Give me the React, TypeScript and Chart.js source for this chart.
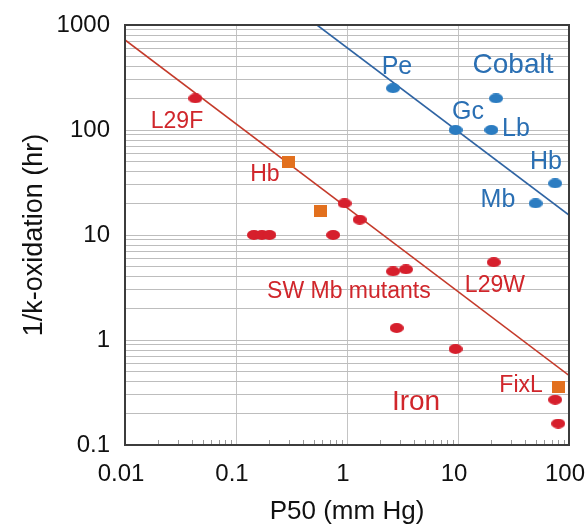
import React, { useEffect, useRef } from 'react';
import { Chart, registerables } from 'chart.js';

Chart.register(...registerables);

// Iron (red circles): P50 (mm Hg) vs 1/k-oxidation (hr)
const ironP50 = [0.043, 0.145, 0.171, 0.2, 0.75, 0.95, 1.3, 2.6, 3.4, 21, 2.8, 9.5, 75, 80];
const ironTime = [200, 10, 10, 10, 10, 20, 14, 4.5, 4.7, 5.5, 1.3, 0.82, 0.27, 0.16];
// Iron globins (orange squares): Hb, ?, FixL
const globinP50 = [0.3, 0.58, 80];
const globinTime = [50, 17, 0.36];
// Cobalt (blue circles): Pe, ?, Gc, Lb, Hb, Mb
const cobaltP50 = [2.6, 22, 9.5, 20, 75, 50];
const cobaltTime = [250, 200, 100, 100, 31, 20];
// Trend lines
const ironFitP50 = [0.01, 100];
const ironFitTime = [720, 0.46];
const cobaltFitP50 = [0.537, 100];
const cobaltFitTime = [1000, 15.5];
// Axis ticks
const xTickValues = [0.01, 0.1, 1, 10, 100];
const yTickValues = [0.1, 1, 10, 100, 1000];
// Annotation texts anchored in data coordinates
const labelTexts = ['L29F', 'Hb', 'SW Mb mutants', 'L29W', 'FixL', 'Iron', 'Pe', 'Cobalt', 'Gc', 'Lb', 'Hb', 'Mb'];
const labelP50 = [0.0294, 0.182, 1.04, 21.5, 37, 4.19, 2.82, 31.3, 12.3, 33.3, 62, 22.9];
const labelTime = [119, 37.3, 2.87, 3.27, 0.365, 0.257, 398, 416, 148, 102, 49.5, 21.5];
const labelGroup = ['iron', 'iron', 'iron', 'iron', 'iron', 'ironBig', 'cobalt', 'cobaltBig', 'cobalt', 'cobalt', 'cobalt', 'cobalt'];

const FONT = '"Liberation Sans", Arial, sans-serif';
const RED = '#d61f2c';
const RED_TEXT = '#d0262b';
const RED_LINE = '#c43a2a';
const BLUE = '#2b7cc1';
const BLUE_TEXT = '#2a6fb3';
const BLUE_LINE = '#2f64a3';
const ORANGE = '#e2701e';

const groupStyle: Record<string, { color: string; size: number }> = {
  iron: { color: RED_TEXT, size: 23 },
  ironBig: { color: RED_TEXT, size: 28 },
  cobalt: { color: BLUE_TEXT, size: 25 },
  cobaltBig: { color: BLUE_TEXT, size: 28 },
};

function makeMarker(color: string, w: number, h: number, shape: 'ellipse' | 'rect') {
  const c = document.createElement('canvas');
  c.width = w;
  c.height = h;
  const g = c.getContext('2d')!;
  g.fillStyle = color;
  if (shape === 'ellipse') {
    g.beginPath();
    g.ellipse(w / 2, h / 2, w / 2, h / 2, 0, 0, Math.PI * 2);
    g.fill();
  } else {
    g.fillRect(0, 0, w, h);
  }
  return c;
}

const zip = (xs: number[], ys: number[]) => xs.map((x, i) => ({ x, y: ys[i] }));

function isDecade(v: number) {
  const l = Math.log10(v);
  return Math.abs(l - Math.round(l)) < 1e-9;
}

export default function App() {
  const ref = useRef<HTMLCanvasElement>(null);

  useEffect(() => {
    document.body.style.margin = '0';
    const canvas = ref.current!;
    const redDot = makeMarker(RED, 14, 10, 'ellipse');
    const blueDot = makeMarker(BLUE, 14, 10, 'ellipse');
    const square = makeMarker(ORANGE, 13, 12, 'rect');

    const yAll: number[] = [];
    for (let k = -1; k <= 2; k++) for (let n = 1; n <= 9; n++) yAll.push(+(n * Math.pow(10, k)).toPrecision(3));
    yAll.push(1000);

    const framePlugin = {
      id: 'frameAndLabels',
      beforeDatasetsDraw(chart: any) {
        const { ctx, chartArea: a, scales } = chart;
        const xs = scales.x;
        ctx.save();
        ctx.strokeStyle = '#9a9a9a';
        ctx.lineWidth = 1;
        for (let k = -2; k <= 1; k++) {
          for (let n = 2; n <= 9; n++) {
            const px = Math.round(xs.getPixelForValue(n * Math.pow(10, k))) + 0.5;
            ctx.beginPath();
            ctx.moveTo(px, a.bottom);
            ctx.lineTo(px, a.bottom - 5);
            ctx.stroke();
          }
        }
        ctx.restore();
      },
      afterDatasetsDraw(chart: any) {
        const { ctx, chartArea: a, scales } = chart;
        ctx.save();
        ctx.strokeStyle = '#3c3c3c';
        ctx.lineWidth = 2;
        ctx.strokeRect(a.left, a.top, a.right - a.left, a.bottom - a.top);
        ctx.textAlign = 'center';
        ctx.textBaseline = 'middle';
        labelTexts.forEach((t, i) => {
          const st = groupStyle[labelGroup[i]];
          ctx.fillStyle = st.color;
          ctx.font = `${st.size}px ${FONT}`;
          ctx.fillText(t, scales.x.getPixelForValue(labelP50[i]), scales.y.getPixelForValue(labelTime[i]));
        });
        ctx.restore();
      },
    };

    const chart = new Chart(canvas, {
      type: 'scatter',
      data: {
        datasets: [
          {
            label: 'Iron fit',
            data: zip(ironFitP50, ironFitTime),
            showLine: true,
            borderColor: RED_LINE,
            borderWidth: 1.6,
            pointRadius: 0,
            order: 2,
          },
          {
            label: 'Cobalt fit',
            data: zip(cobaltFitP50, cobaltFitTime),
            showLine: true,
            borderColor: BLUE_LINE,
            borderWidth: 1.6,
            pointRadius: 0,
            order: 2,
          },
          {
            label: 'Iron',
            data: zip(ironP50, ironTime),
            pointStyle: redDot as any,
            order: 1,
          },
          {
            label: 'Iron globins',
            data: zip(globinP50, globinTime),
            pointStyle: square as any,
            order: 1,
          },
          {
            label: 'Cobalt',
            data: zip(cobaltP50, cobaltTime),
            pointStyle: blueDot as any,
            order: 1,
          },
        ],
      },
      options: {
        animation: false,
        responsive: false,
        maintainAspectRatio: false,
        layout: { padding: { top: 25, right: 17, left: 0, bottom: 0 } },
        plugins: { legend: { display: false }, tooltip: { enabled: false } },
        scales: {
          x: {
            type: 'logarithmic',
            min: 0.01,
            max: 100,
            afterBuildTicks: (s: any) => {
              s.ticks = xTickValues.map((v) => ({ value: v }));
            },
            afterFit: (s: any) => {
              s.height = 82;
              s.paddingLeft = 0;
              s.paddingRight = 0;
            },
            ticks: {
              autoSkip: false,
              maxRotation: 0,
              padding: 15,
              labelOffset: -4,
              color: '#111',
              font: { family: FONT, size: 24 },
              callback: (v: any) => String(v),
            },
            grid: { color: '#c4c4c4', lineWidth: 1, drawTicks: false },
            border: { display: false },
            title: {
              display: true,
              text: 'P50 (mm Hg)',
              color: '#111',
              font: { family: FONT, size: 26 },
              padding: { top: 0, bottom: 0 },
            },
          },
          y: {
            type: 'logarithmic',
            min: 0.1,
            max: 1000,
            afterBuildTicks: (s: any) => {
              s.ticks = yAll.map((v) => ({ value: v }));
            },
            afterFit: (s: any) => {
              s.width = 125;
              s.paddingTop = 0;
              s.paddingBottom = 0;
            },
            ticks: {
              autoSkip: false,
              padding: 15,
              color: '#111',
              font: { family: FONT, size: 24 },
              callback: (v: any) => (isDecade(Number(v)) && yTickValues.includes(Number(v)) ? String(v) : ''),
            },
            grid: { color: '#bdbdbd', lineWidth: 1, drawTicks: false },
            border: { display: false },
            title: {
              display: true,
              text: '1/k-oxidation (hr)',
              color: '#111',
              font: { family: FONT, size: 27 },
              padding: { top: 18, bottom: 0 },
            },
          },
        },
      },
      plugins: [framePlugin],
    } as any);

    return () => chart.destroy();
  }, []);

  return (
    <div style={{ width: 586, height: 527 }}>
      <canvas ref={ref} width={586} height={527} style={{ display: 'block', width: 586, height: 527 }} />
    </div>
  );
}
